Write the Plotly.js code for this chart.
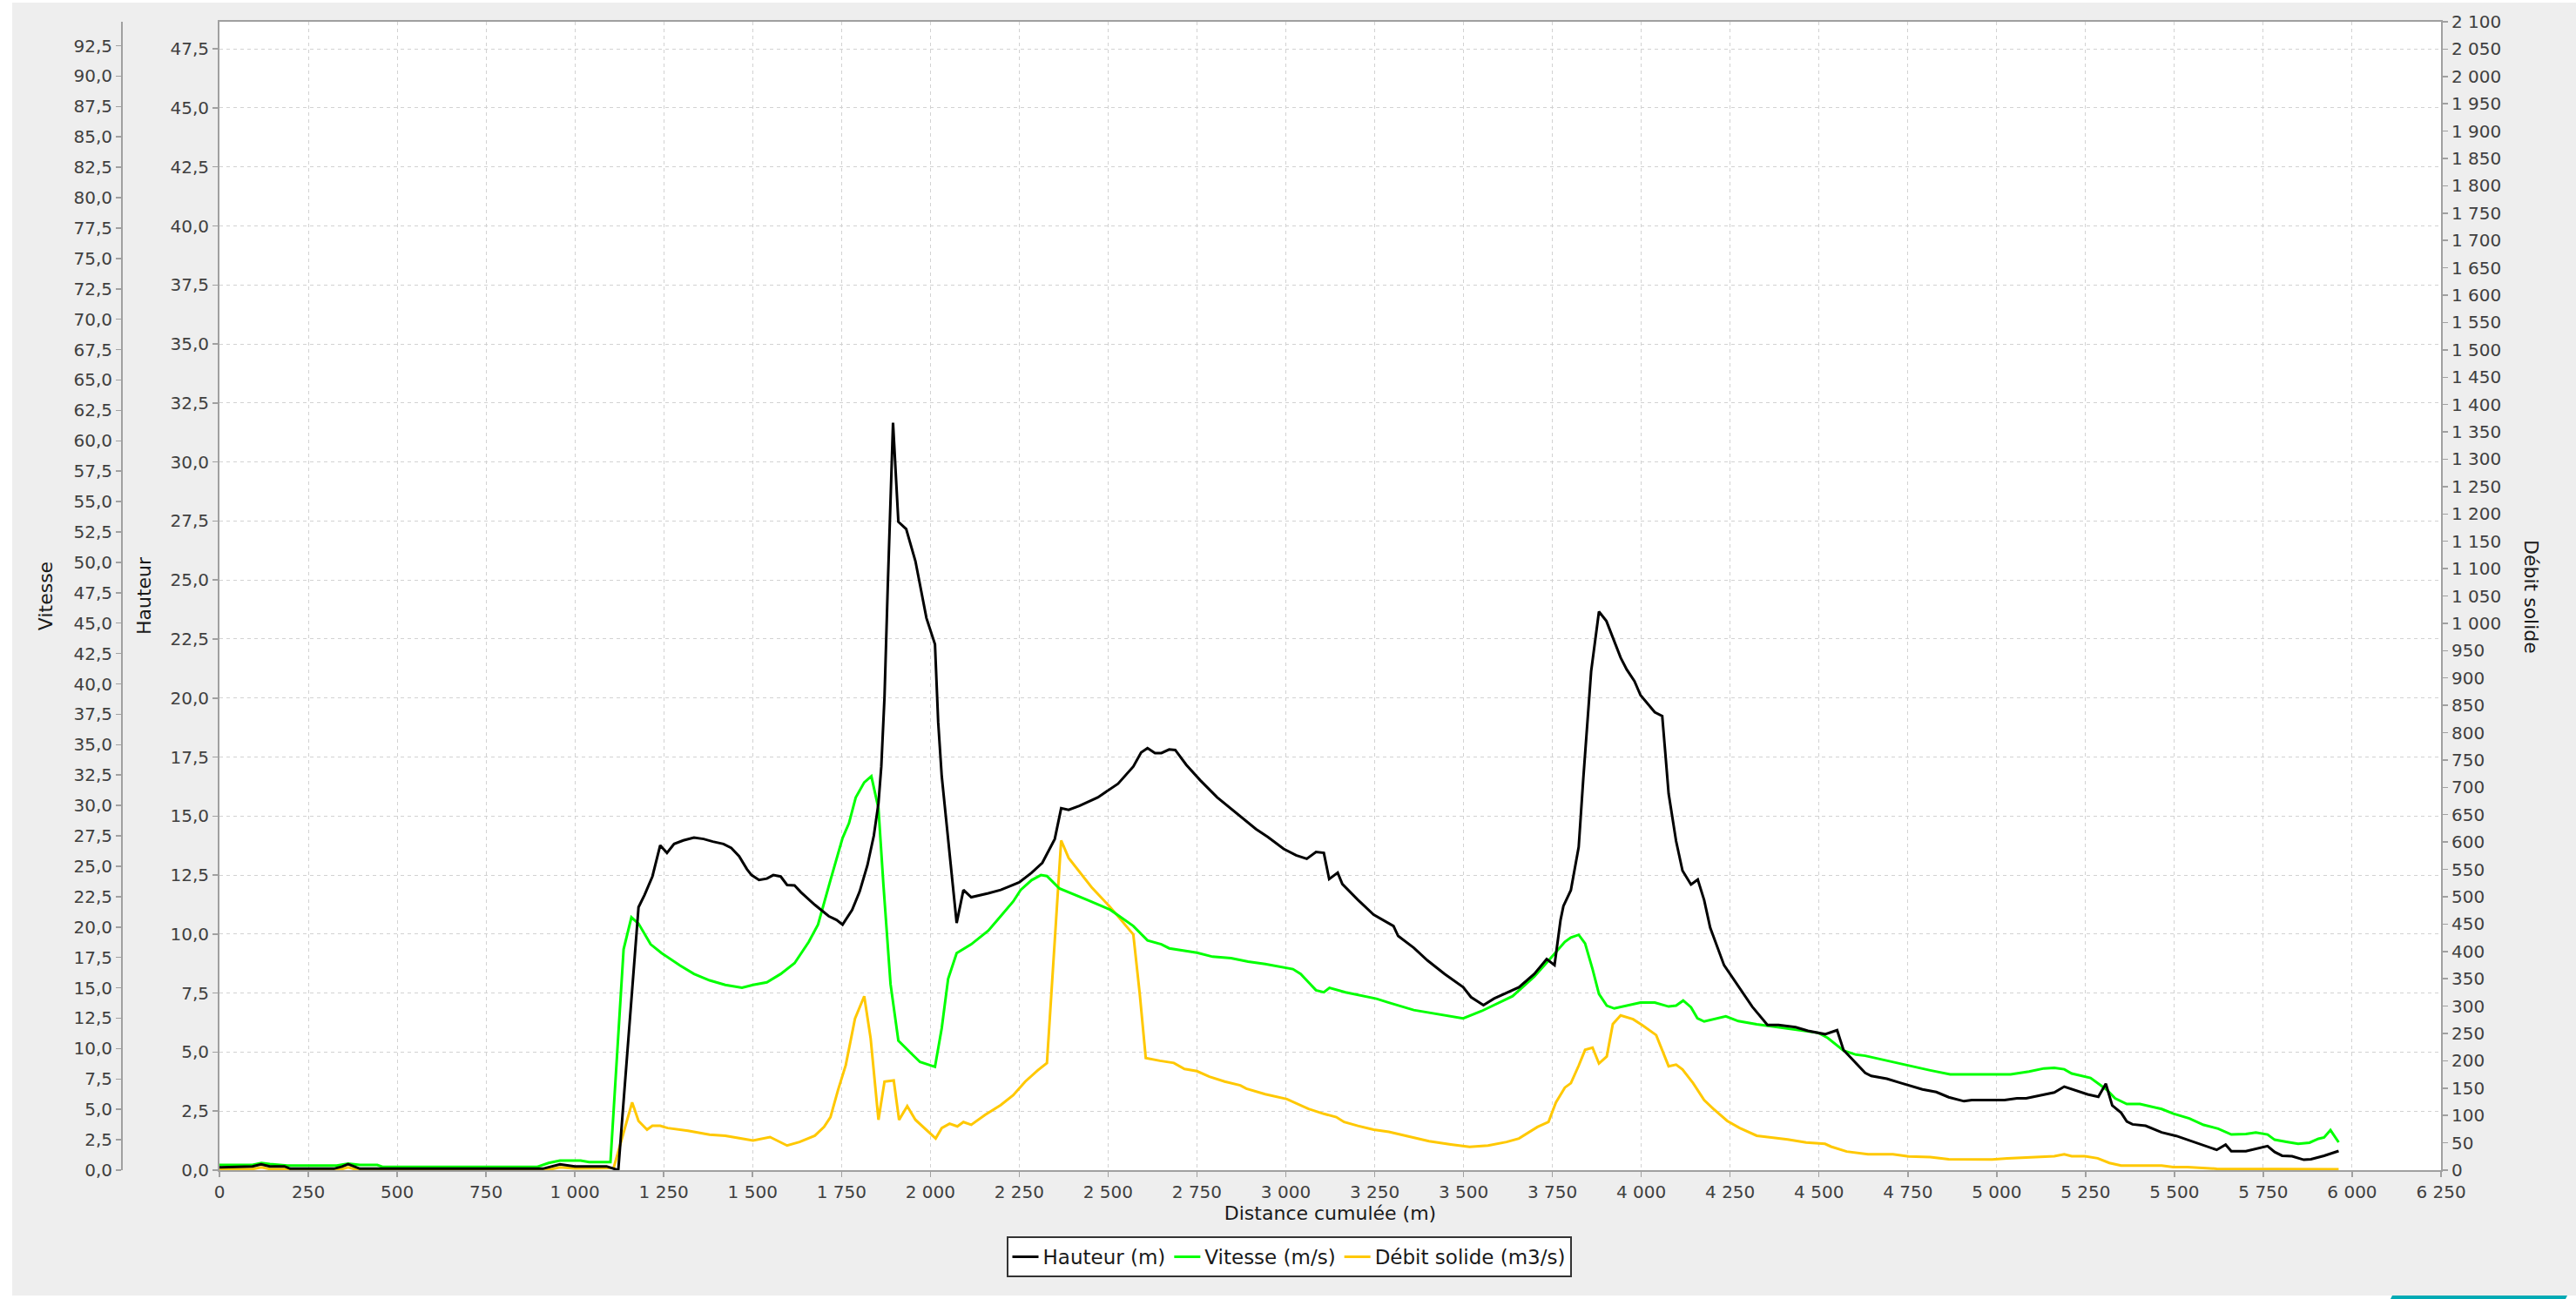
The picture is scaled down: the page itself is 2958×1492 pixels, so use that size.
<!DOCTYPE html>
<html>
<head>
<meta charset="utf-8">
<script src="https://cdn.plot.ly/plotly-3.0.1.min.js"></script>
<style>
html, body { margin: 0; padding: 0; background: #ffffff; }
#chart { width: 2958px; height: 1492px; }
</style>
</head>
<body>
<div id="chart"></div>
<script>
// ---------------- DATA ----------------
// Hauteur (m) — left inner axis
const distHauteur = [0, 93, 117, 142, 183, 199, 322, 345, 362, 380, 395, 910, 935, 958, 1000, 1089, 1122,
  1150, 1161, 1179, 1196, 1218, 1240, 1259, 1279, 1305, 1335, 1362, 1388, 1418, 1440, 1462, 1484, 1497, 1518,
  1540, 1558, 1579, 1597, 1618, 1636, 1675, 1714, 1736, 1753, 1780, 1801, 1823, 1841, 1854, 1862, 1871, 1880,
  1895, 1910, 1932, 1958, 1989, 2013, 2022, 2032, 2074, 2093, 2115, 2163, 2198, 2250, 2285, 2315, 2350, 2368,
  2389, 2419, 2471, 2528, 2571, 2593, 2611, 2632, 2650, 2672, 2689, 2720, 2759, 2807, 2872, 2916, 2950, 2994,
  3029, 3059, 3085, 3107, 3122, 3146, 3159, 3203, 3247, 3303, 3316, 3360, 3399, 3447, 3499, 3521, 3556, 3586,
  3656, 3699, 3734, 3756, 3773, 3781, 3802, 3824, 3837, 3859, 3881, 3902, 3942, 3959, 3981, 3998, 4038, 4059,
  4068, 4077, 4098, 4116, 4140, 4159, 4177, 4194, 4233, 4277, 4312, 4355, 4386, 4434, 4469, 4517, 4551, 4569,
  4630, 4647, 4691, 4726, 4752, 4791, 4830, 4865, 4908, 4930, 5022, 5057, 5083, 5115, 5162, 5190, 5227, 5256,
  5286, 5307, 5325, 5350, 5366, 5382, 5419, 5464, 5505, 5546, 5586, 5619, 5644, 5660, 5701, 5762, 5782, 5803,
  5831, 5864, 5884, 5921, 5962];
const hauteur = [0.12, 0.16, 0.25, 0.16, 0.16, 0.06, 0.06, 0.15, 0.25, 0.15, 0.06, 0.06, 0.15, 0.25, 0.16, 0.16, 0,
  5.5, 7.9, 11.14, 11.66, 12.44, 13.76, 13.44, 13.82, 13.97, 14.09, 14.03, 13.92, 13.82, 13.65, 13.30, 12.75, 12.5, 12.29,
  12.35, 12.5, 12.44, 12.08, 12.06, 11.77, 11.24, 10.76, 10.6, 10.4, 11.03, 11.8, 12.92, 14.17, 15.54, 17.1, 20.04, 24.64,
  31.66, 27.47, 27.16, 25.8, 23.39, 22.28, 18.99, 16.69, 10.47, 11.87, 11.56, 11.73, 11.87, 12.19, 12.6, 13.02, 14.03, 15.33,
  15.26, 15.43, 15.79, 16.37, 17.1, 17.69, 17.88, 17.67, 17.67, 17.82, 17.8, 17.17, 16.52, 15.79, 15.01, 14.45, 14.11, 13.61,
  13.34, 13.19, 13.48, 13.44, 12.33, 12.6, 12.12, 11.45, 10.82, 10.34, 9.92, 9.42, 8.88, 8.31, 7.75, 7.33, 6.99, 7.27,
  7.75, 8.31, 8.94, 8.69, 10.6, 11.19, 11.86, 13.69, 16.6, 21.13, 23.66, 23.26, 21.71, 21.21, 20.71, 20.12, 19.4, 19.24,
  17.62, 15.95, 13.94, 12.69, 12.1, 12.31, 11.44, 10.27, 8.68, 7.68, 6.93, 6.15, 6.15, 6.06, 5.9, 5.76, 5.93, 5.09,
  4.12, 3.99, 3.87, 3.71, 3.59, 3.42, 3.31, 3.09, 2.92, 2.97, 2.97, 3.04, 3.04, 3.13, 3.29, 3.54, 3.36, 3.21,
  3.11, 3.66, 2.74, 2.43, 2.06, 1.94, 1.88, 1.6, 1.45, 1.23, 1.04, 0.86, 1.08, 0.8, 0.8, 1.02, 0.77, 0.61,
  0.59, 0.44, 0.46, 0.61, 0.81];

// Vitesse (m/s) — left outer axis
const distVitesse = [0, 93, 118, 142, 191, 330, 362, 395, 444, 460, 893, 926, 958, 1016, 1040, 1100, 1137, 1159,
  1179, 1213, 1244, 1296, 1335, 1379, 1423, 1470, 1501, 1540, 1579, 1618, 1658, 1684, 1719, 1753, 1771, 1790,
  1814, 1834, 1854, 1868, 1888, 1910, 1945, 1971, 2013, 2032, 2050, 2074, 2115, 2163, 2198, 2233, 2254, 2285,
  2311, 2328, 2363, 2398, 2440, 2506, 2571, 2611, 2650, 2672, 2750, 2794, 2846, 2894, 2942, 3020, 3042, 3068,
  3085, 3107, 3123, 3168, 3255, 3290, 3360, 3499, 3551, 3638, 3699, 3743, 3785, 3802, 3824, 3842, 3863, 3881,
  3903, 3924, 3998, 4038, 4077, 4098, 4118, 4140, 4158, 4177, 4238, 4273, 4325, 4499, 4525, 4569, 4604, 4630,
  4726, 4813, 4869, 4987, 5039, 5091, 5133, 5162, 5190, 5211, 5264, 5309, 5333, 5366, 5403, 5464, 5497, 5542,
  5582, 5623, 5660, 5701, 5729, 5762, 5782, 5815, 5848, 5880, 5905, 5921, 5939, 5962];
const vitesse = [0.43, 0.43, 0.59, 0.5, 0.38, 0.38, 0.54, 0.43, 0.43, 0.26, 0.26, 0.59, 0.79, 0.79, 0.67, 0.67, 18.17, 20.8,
  20.28, 18.58, 17.85, 16.83, 16.14, 15.61, 15.24, 15.0, 15.24, 15.45, 16.14, 17.03, 18.78, 20.2, 23.86, 27.32, 28.54, 30.65,
  31.9, 32.4, 29.76, 23.46, 15.3, 10.65, 9.63, 8.9, 8.5, 11.67, 15.73, 17.85, 18.58, 19.7, 20.9, 22.1, 23.05, 23.86,
  24.27, 24.19, 23.17, 22.76, 22.24, 21.42, 20.08, 18.9, 18.58, 18.25, 17.89, 17.56, 17.44, 17.15, 16.95, 16.54, 16.14, 15.33,
  14.8, 14.63, 15.0, 14.63, 14.1, 13.78, 13.17, 12.48, 13.09, 14.31, 15.93, 17.36, 18.78, 19.14, 19.36, 18.65, 16.54, 14.5,
  13.53, 13.3, 13.79, 13.79, 13.46, 13.53, 13.95, 13.4, 12.49, 12.23, 12.65, 12.26, 12.0, 11.29, 10.87, 9.83, 9.5, 9.41,
  8.76, 8.21, 7.88, 7.85, 7.88, 8.11, 8.37, 8.42, 8.3, 7.95, 7.59, 6.63, 5.91, 5.44, 5.44, 5.03, 4.65, 4.25,
  3.72, 3.41, 2.93, 2.98, 3.1, 2.93, 2.5, 2.33, 2.17, 2.26, 2.58, 2.69, 3.29, 2.29];

// Débit solide (m3/s) — right axis
const distDebit = [0, 93, 118, 142, 345, 362, 380, 935, 958, 1000, 1109, 1126, 1161, 1179, 1203, 1218, 1240, 1261,
  1318, 1379, 1423, 1466, 1501, 1549, 1597, 1632, 1675, 1701, 1719, 1740, 1762, 1788, 1814, 1832, 1854, 1871,
  1897, 1912, 1935, 1958, 1989, 2015, 2032, 2054, 2076, 2093, 2115, 2154, 2198, 2233, 2267, 2302, 2328, 2368,
  2389, 2415, 2454, 2506, 2541, 2571, 2589, 2606, 2646, 2685, 2715, 2750, 2785, 2828, 2872, 2889, 2942, 3003,
  3064, 3107, 3142, 3164, 3203, 3247, 3290, 3342, 3403, 3464, 3517, 3569, 3621, 3656, 3708, 3739, 3760, 3785,
  3802, 3824, 3842, 3863, 3881, 3903, 3920, 3942, 3977, 4003, 4042, 4077, 4098, 4116, 4146, 4177, 4203, 4242,
  4277, 4325, 4377, 4412, 4464, 4517, 4534, 4578, 4638, 4708, 4752, 4813, 4865, 4987, 5030, 5083, 5110, 5162,
  5190, 5211, 5248, 5284, 5317, 5350, 5464, 5497, 5537, 5619, 5962];
const debit = [2, 2, 5, 2, 2, 5, 2, 2, 5, 3, 4, 42, 124, 90, 74, 81, 81, 77,
  72, 65, 63, 58, 54, 60.5, 45, 51.5, 63, 79, 97, 146, 192, 277, 318, 241, 92, 162,
  164, 92, 117, 92, 74, 58, 77, 85, 80, 88, 83, 101, 119, 137, 162, 182.5, 196, 603,
  571, 550, 517, 481, 454, 431, 323, 205, 200, 196, 185, 181, 171, 162, 155, 149, 139, 130,
  112, 103, 97, 88, 81, 74, 70, 62, 53, 47, 42.5, 45, 51.5, 58, 79, 88, 124, 151,
  159, 191, 220, 224, 195, 208, 267, 283, 276, 265, 247, 190, 193, 184, 159, 128, 112, 90,
  77, 63, 59, 56, 50.5, 48, 43, 34, 29, 29, 25, 24, 20, 19.5, 21.6, 23, 24, 25.5,
  29, 25.5, 25.5, 21.7, 13.2, 8.4, 8.4, 5.7, 5.7, 2.5, 1.6];

const seriesNames = ['Hauteur (m)', 'Vitesse (m/s)', 'Débit solide (m3/s)'];
const axisTitles = { x: 'Distance cumulée (m)', vitesse: 'Vitesse', hauteur: 'Hauteur', debit: 'Débit solide' };

// ---------------- LAYOUT GEOMETRY ----------------
const W = 2958, H = 1492;
const ML = 100, MR = 155, MT = 25, MB = 148;
const PW = W - ML - MR, PH = H - MT - MB;
const px = v => (v - ML) / PW;          // pixel x -> paper x
const py = v => 1 - (v - MT) / PH;      // pixel y -> paper y

const tickFont = { family: 'DejaVu Sans, Verdana, sans-serif', size: 20, color: '#404040' };
const titleFont = { family: 'DejaVu Sans, Verdana, sans-serif', size: 22, color: '#1a1a1a' };
const lineCol = '#a0a0a0';
const gridCol = '#d2d2d2';

const traces = [
  { x: distHauteur, y: hauteur, name: seriesNames[0], type: 'scatter', mode: 'lines',
    yaxis: 'y3', line: { color: '#000000', width: 3 } },
  { x: distVitesse, y: vitesse, name: seriesNames[1], type: 'scatter', mode: 'lines',
    yaxis: 'y2', line: { color: '#00ff00', width: 3 } },
  { x: distDebit, y: debit, name: seriesNames[2], type: 'scatter', mode: 'lines',
    yaxis: 'y', line: { color: '#ffc800', width: 3 } }
];

const layout = {
  width: W, height: H,
  margin: { l: ML, r: MR, t: MT, b: MB, pad: 0 },
  paper_bgcolor: '#eeeeee',
  plot_bgcolor: '#ffffff',
  separators: ', ',
  showlegend: true,
  font: tickFont,
  xaxis: {
    domain: [px(252), 1],
    range: [0, 6250], dtick: 250, tick0: 0, tickformat: ',d',
    showgrid: true, gridcolor: gridCol, griddash: '4px,4px', gridwidth: 1,
    zeroline: false,
    showline: true, linecolor: lineCol, linewidth: 2, mirror: true,
    ticks: 'outside', ticklen: 6, tickwidth: 1.5, tickcolor: lineCol,
    tickfont: tickFont,
    title: { text: axisTitles.x, font: titleFont, standoff: 5 }
  },
  // Débit solide (right)
  yaxis: {
    range: [0, 2100], dtick: 50, tick0: 0, tickformat: ',d',
    side: 'right', anchor: 'x',
    showgrid: false, zeroline: false,
    showline: true, linecolor: lineCol, linewidth: 2,
    ticks: 'outside', ticklen: 6, tickwidth: 1.5, tickcolor: lineCol,
    tickfont: tickFont
  },
  // Vitesse (left outer)
  yaxis2: {
    overlaying: 'y', anchor: 'free', position: px(140), side: 'left',
    range: [0, 94.47], dtick: 2.5, tick0: 0, tickformat: '.1f',
    showgrid: false, zeroline: false,
    showline: true, linecolor: lineCol, linewidth: 2,
    ticks: 'outside', ticklen: 6, tickwidth: 1.5, tickcolor: lineCol,
    tickfont: tickFont,
    title: { text: axisTitles.vitesse, font: titleFont, standoff: 17 }
  },
  // Hauteur (left inner)
  yaxis3: {
    overlaying: 'y', anchor: 'x', side: 'left',
    range: [0, 48.65], dtick: 2.5, tick0: 0, tickformat: '.1f',
    showgrid: true, gridcolor: gridCol, griddash: '4px,4px', gridwidth: 1,
    zeroline: false,
    showline: true, linecolor: lineCol, linewidth: 2,
    ticks: 'outside', ticklen: 6, tickwidth: 1.5, tickcolor: lineCol,
    tickfont: tickFont,
    title: { text: axisTitles.hauteur, font: titleFont, standoff: 16 }
  },
  legend: {
    orientation: 'h',
    x: px(1480), xanchor: 'center',
    y: py(1420), yanchor: 'top',
    bgcolor: '#ffffff', bordercolor: '#333333', borderwidth: 2,
    font: { family: 'DejaVu Sans, Verdana, sans-serif', size: 23, color: '#1a1a1a' },
    traceorder: 'normal'
  },
  annotations: [
    { text: axisTitles.debit, xref: 'paper', yref: 'paper', x: px(2907), y: py(685),
      xanchor: 'center', yanchor: 'middle', textangle: 90, showarrow: false, font: titleFont }
  ],
  shapes: [
    { type: 'rect', xref: 'paper', yref: 'paper', x0: px(0), x1: px(14), y0: py(0), y1: py(H),
      fillcolor: '#ffffff', line: { width: 0 } },
    { type: 'rect', xref: 'paper', yref: 'paper', x0: px(0), x1: px(W), y0: py(0), y1: py(3),
      fillcolor: '#ffffff', line: { width: 0 } },
    { type: 'rect', xref: 'paper', yref: 'paper', x0: px(0), x1: px(W), y0: py(1488), y1: py(H),
      fillcolor: '#ffffff', line: { width: 0 } },
    { type: 'path', xref: 'paper', yref: 'paper',
      path: 'M ' + px(2747) + ',' + py(1488) + ' L ' + px(2948) + ',' + py(1488) + ' L ' + px(2946) + ',' + py(H) +
            ' L ' + px(2745) + ',' + py(H) + ' Z',
      fillcolor: '#00aab4', line: { width: 0 } }
  ]
};

Plotly.newPlot('chart', traces, layout, { displayModeBar: false, staticPlot: true });
</script>
</body>
</html>
